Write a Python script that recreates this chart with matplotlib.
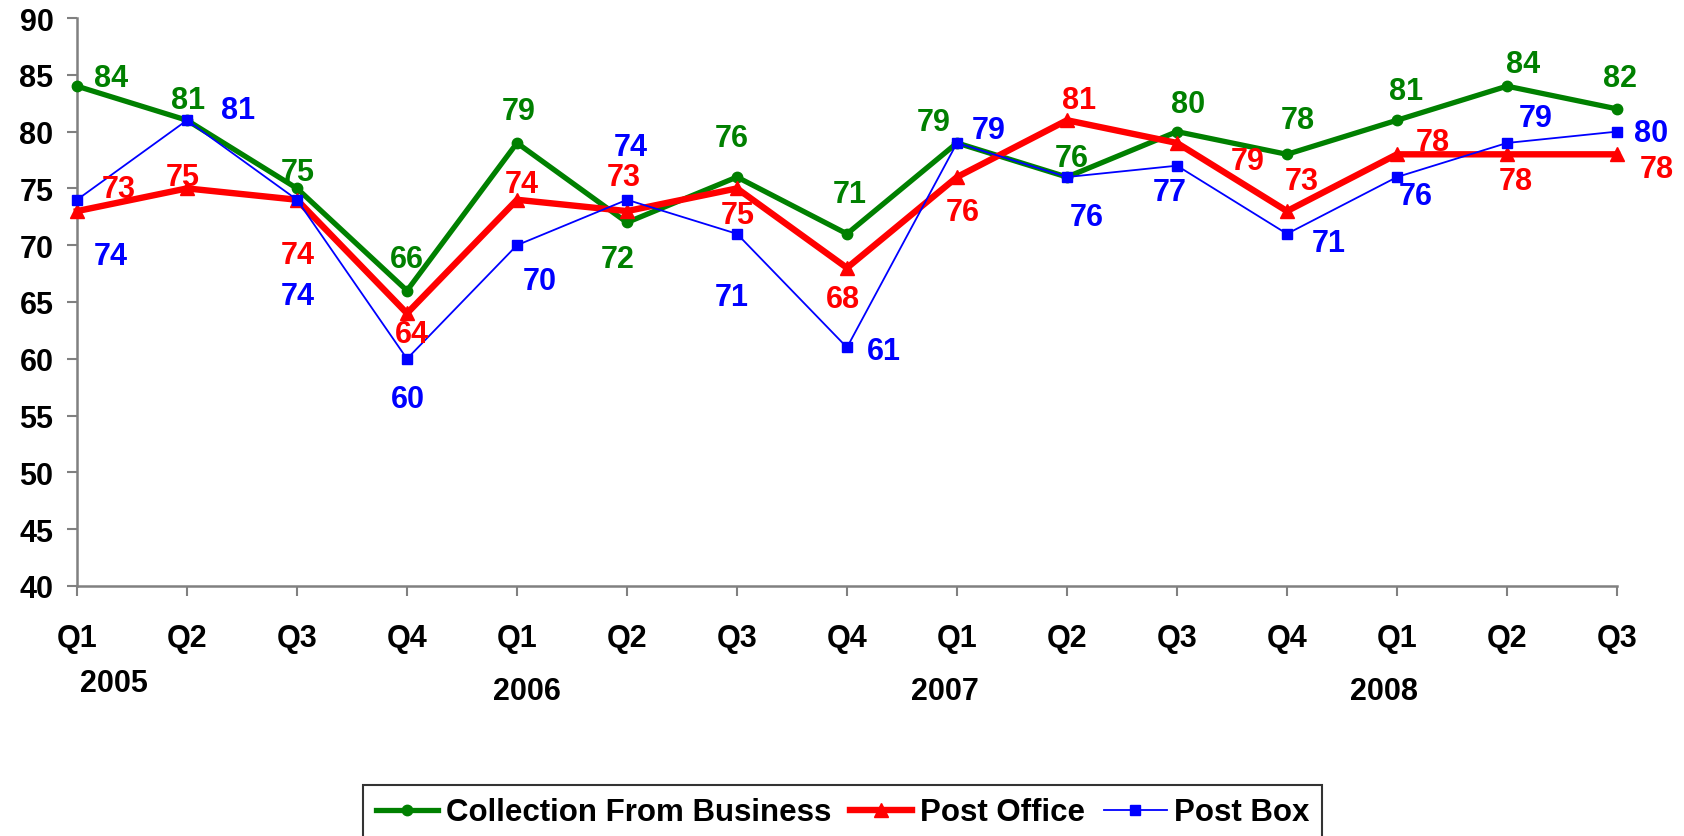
import matplotlib
matplotlib.use("Agg")
import matplotlib.pyplot as plt
import matplotlib.transforms as mtrans

plt.rcParams['font.family'] = ['Liberation Sans', 'DejaVu Sans']
plt.rcParams['font.weight'] = 'bold'

quarters = ["Q1", "Q2", "Q3", "Q4", "Q1", "Q2", "Q3", "Q4",
            "Q1", "Q2", "Q3", "Q4", "Q1", "Q2", "Q3"]
years = ["2005", "2006", "2007", "2008"]
year_idx = [0, 4, 8, 12]

collection = [84, 81, 75, 66, 79, 72, 76, 71, 79, 76, 80, 78, 81, 84, 82]
post_office = [73, 75, 74, 64, 74, 73, 75, 68, 76, 81, 79, 73, 78, 78, 78]
post_box = [74, 81, 74, 60, 70, 74, 71, 61, 79, 76, 77, 71, 76, 79, 80]

# label offsets in pixels (dx right, dy down) -- styling only
off_col = [(34, -8), (1, -20), (1, -16), (0, -32), (2, -32), (-9, 37), (-5, -39), (3, -40),
           (-23, -21), (5, -19), (11, -28), (11, -34), (9, -29), (16, -22), (3, -31)]
off_po = [(42, -22), (-4, -11), (1, 55), (5, 21), (5, -16), (-3, -34), (1, 27), (-4, 31),
          (6, 35), (12, -20), (71, 18), (15, -30), (36, -12), (9, 27), (40, 15)]
off_pb = [(34, 56), (51, -10), (1, 96), (1, 40), (23, 36), (4, -53), (-5, 63), (37, 4),
          (32, -13), (20, 40), (-7, 26), (42, 9), (19, 19), (29, -25), (34, 1)]
year_dx = [37, 10, -12, -13]

W, H = 1684, 837
fig = plt.figure(figsize=(W / 100, H / 100), dpi=100)
ax = fig.add_axes([77 / W, (H - 587) / H, 1540 / W, 568 / H])

x = list(range(len(quarters)))
GREEN, RED, BLUE = "#008000", "#FF0000", "#0000FF"

l1, = ax.plot(x, collection, color=GREEN, lw=3.8, marker="o", ms=7.5, label="Collection From Business",
              clip_on=False, zorder=3)
l2, = ax.plot(x, post_office, color=RED, lw=4.6, marker="^", ms=9.5, label="Post Office",
              clip_on=False, zorder=4)
l3, = ax.plot(x, post_box, color=BLUE, lw=1.3, marker="s", ms=7.5, label="Post Box",
              clip_on=False, zorder=5)

for series, offs, col in [(collection, off_col, GREEN), (post_office, off_po, RED), (post_box, off_pb, BLUE)]:
    for i, v in enumerate(series):
        dx, dy = offs[i]
        ax.annotate(str(v), (x[i], v), xytext=(dx, -dy), textcoords="offset pixels",
                    ha="center", va="center", color=col, fontsize=22, fontweight="bold", zorder=6)

ax.set_xlim(0, 14)
ax.set_ylim(40, 90)
ax.set_yticks(range(40, 91, 5))
ax.set_xticks(x)
ax.set_xticklabels(quarters)
for s in ["top", "right"]:
    ax.spines[s].set_visible(False)
for s in ["left", "bottom"]:
    ax.spines[s].set_color("#808080")
    ax.spines[s].set_linewidth(1.8)
ax.tick_params(axis="both", direction="out", length=7, width=1.5, color="#808080",
               labelsize=22, labelcolor="black")
ax.tick_params(axis="y", pad=10)
ax.tick_params(axis="x", pad=20)
for lab in ax.get_xticklabels() + ax.get_yticklabels():
    lab.set_fontweight("bold")

# year labels
for yi, (idx, yr) in enumerate(zip(year_idx, years)):
    ypix = 684 if yi == 0 else 692
    tr = mtrans.blended_transform_factory(ax.transData, fig.transFigure)
    ax.text(idx, (H - ypix) / H, yr,
            transform=tr + mtrans.ScaledTranslation(year_dx[yi] / 100, 0, fig.dpi_scale_trans),
            ha="center", va="center", fontsize=22, fontweight="bold", color="black", clip_on=False)

leg = fig.legend(handles=[l1, l2, l3], loc="upper left", bbox_to_anchor=(363 / W, (H - 786) / H),
                 ncol=3, frameon=True, fancybox=False, edgecolor="black", fontsize=22.5,
                 handlelength=2.0, handletextpad=0.25, columnspacing=0.6, borderpad=0.4,
                 borderaxespad=0)
leg.get_frame().set_linewidth(1.5)
for t in leg.get_texts():
    t.set_fontweight("bold")

fig.savefig("out.png", dpi=100)
